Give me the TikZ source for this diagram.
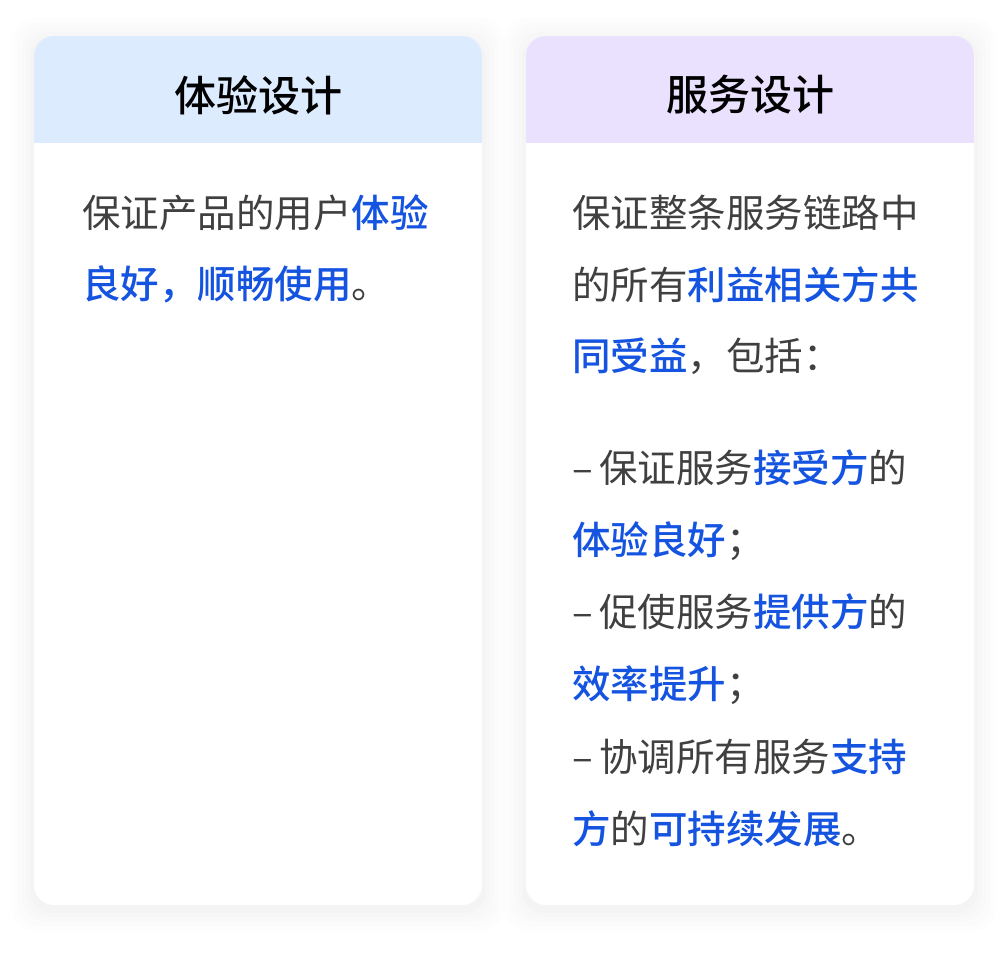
\documentclass[tikz,border=0pt]{standalone}
\usepackage{fontspec}
\setmainfont{Noto Sans CJK SC}[BoldFont={Noto Sans CJK SC Medium}]
\usetikzlibrary{calc}
\definecolor{hb}{HTML}{DDEBFE}
\definecolor{hp}{HTML}{E9E1FD}
\definecolor{tx}{HTML}{404040}
\definecolor{bl}{HTML}{1554E0}
\newcommand{\hl}[1]{\textcolor{bl}{\bfseries #1}}
\tikzset{ln/.style={anchor=west,inner sep=0pt,text=tx,font=\fontsize{38.5}{38.5}\selectfont},
ttl/.style={inner sep=0pt,font=\fontsize{42}{42}\selectfont\bfseries}}
\begin{document}
\begin{tikzpicture}[x=1pt,y=-1pt]
\useasboundingbox[fill=white] (0,0) rectangle (1008,954);
\foreach \x in {34,526}{
 \foreach \s/\o in {22/0.006,17/0.007,12/0.008,8/0.009,4/0.01}{
  \fill[black,opacity=\o,rounded corners=22pt] (\x-\s,36-\s+4) rectangle (\x+448+\s,905+\s+4);}
}
\fill[white,rounded corners=20pt] (34,36) rectangle (482,905);
\fill[white,rounded corners=20pt] (526,36) rectangle (974,905);
\begin{scope}
\clip[rounded corners=20pt] (34,36) rectangle (482,905);
\fill[hb] (34,36) rectangle (482,143);
\end{scope}
\begin{scope}
\clip[rounded corners=20pt] (526,36) rectangle (974,905);
\fill[hp] (526,36) rectangle (974,143);
\end{scope}
\node[ttl] (t1) at (258,95) {体验设计};
\node[ttl] (t2) at (750,95) {服务设计};
\node[ln] (a1) at (82,213) {保证产品的用户\hl{体验}};
\node[ln] (a2) at (82,284) {\hl{良好，顺畅使用}。};
\node[ln] (b1) at (572,213) {保证整条服务链路中};
\node[ln] (b2) at (572,285) {的所有\hl{利益相关方共}};
\node[ln] (b3) at (572,356) {\hl{同受益}，包括：};
\node[ln] (b4) at (572,468) {–\,保证服务\hl{接受方}的};
\node[ln] (b5) at (572,541) {\hl{体验良好}；};
\node[ln] (b6) at (572,612) {–\,促使服务\hl{提供方}的};
\node[ln] (b7) at (572,685) {\hl{效率提升}；};
\node[ln] (b8) at (572,757) {–\,协调所有服务\hl{支持}};
\node[ln] (b9) at (572,829) {\hl{方}的\hl{可持续发展}。};
\end{tikzpicture}
\end{document}
